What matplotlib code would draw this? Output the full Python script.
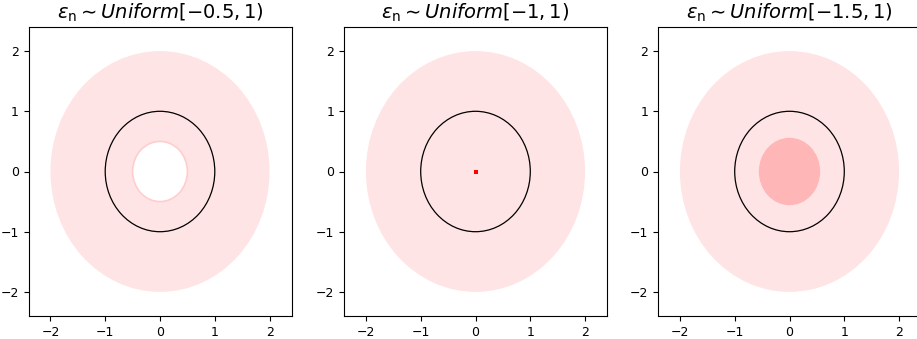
import matplotlib.pyplot as plt
from matplotlib.patches import Circle

# noise ranges shown in the titles
eps_low = [-0.5, -1, -1.5]
eps_high = [1, 1, 1]
# radii
outer_r = [2.0, 2.0, 2.0]
hole_r = [0.5, 0.0, 0.0]
core_r = [0.0, 0.0, 0.56]
ticks = [-2, -1, 0, 1, 2]

fig = plt.figure(figsize=(9.17, 3.39), dpi=100)
lefts = [28.5, 344, 658]

for i in range(3):
    ax = fig.add_axes([lefts[i] / 917, 23 / 339, 263 / 917, 289 / 339])
    # spread of noisy points
    ax.add_patch(Circle((0, 0), outer_r[i], color='#ffe4e5', lw=0))
    if hole_r[i] > 0:
        ax.add_patch(Circle((0, 0), hole_r[i], facecolor='white',
                            edgecolor='#ffcdcd', lw=1.2))
    if core_r[i] > 0:
        ax.add_patch(Circle((0, 0), core_r[i], color='#ffb6b7', lw=0))
    if eps_low[i] == -1:
        ax.plot([0], [0], 's', color='red', ms=2.4, mew=0)
    # unit circle
    ax.add_patch(Circle((0, 0), 1, fill=False, edgecolor='black', lw=0.9))
    ax.set_xlim(-2.4, 2.4)
    ax.set_ylim(-2.4, 2.4)
    ax.set_xticks(ticks)
    ax.set_yticks(ticks)
    ax.tick_params(labelsize=9)
    ax.set_title(r'$\varepsilon_\mathrm{n} \sim Uniform[%s, %s)$' % (eps_low[i], eps_high[i]),
                 fontsize=14)

fig.savefig('out.png', dpi=100)
